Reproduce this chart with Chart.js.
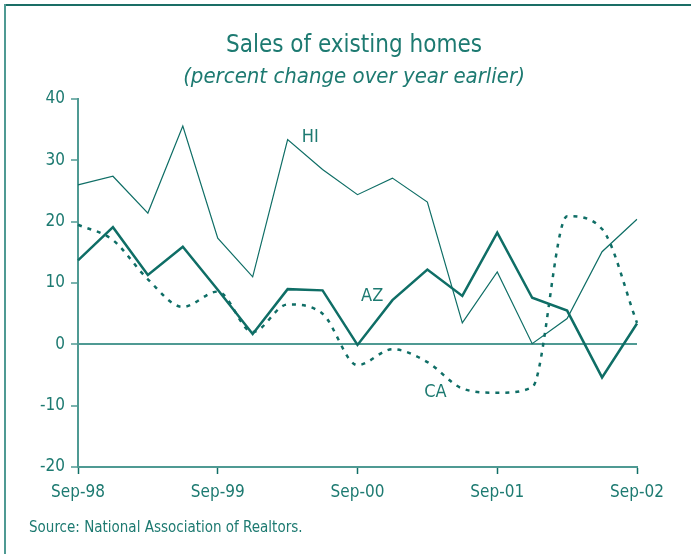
<!DOCTYPE html>
<html>
<head>
<meta charset="utf-8">
<script src="https://cdn.jsdelivr.net/npm/chart.js@4.4.0/dist/chart.umd.min.js"></script>
<style>
html,body{margin:0;padding:0;background:#fff;}
#wrap{position:relative;width:691px;height:554px;}
canvas{display:block;}
</style>
</head>
<body>
<div id="wrap"><canvas id="c" width="691" height="554"></canvas></div>
<script>
const categories = ["Sep-98","Dec-98","Mar-99","Jun-99","Sep-99","Dec-99","Mar-00","Jun-00","Sep-00","Dec-00","Mar-01","Jun-01","Sep-01","Dec-01","Mar-02","Jun-02","Sep-02"];
const hiValues = [26.0, 27.4, 21.4, 35.6, 17.3, 11.0, 33.4, 28.5, 24.4, 27.1, 23.2, 3.5, 11.8, 0.1, 4.2, 15.1, 20.4];
const azValues = [13.7, 19.1, 11.3, 15.9, 8.9, 1.7, 9.0, 8.8, -0.1, 7.2, 12.2, 7.9, 18.2, 7.6, 5.5, -5.4, 3.4];
const caValues = [19.5, 17.0, 10.6, 6.1, 8.6, 2.0, 6.5, 5.0, -3.4, -0.8, -2.9, -7.2, -7.9, -7.0, 20.9, 18.8, 3.5];
const yTicks = [-20, -10, 0, 10, 20, 30, 40];
const seriesNames = ["HI", "AZ", "CA"];

const TEAL = "#0f6e66";
const AXIS = "#4f9a93";
const TEXT = "#1d7a71";
const FONT = "'Liberation Sans Narrow', 'DejaVu Sans Condensed', 'Liberation Sans', sans-serif";

const labelSpots = [
  {name: 0, xi: 6.65, y: 33.8},
  {name: 1, xi: 8.42, y: 7.8},
  {name: 2, xi: 10.23, y: -7.8}
];

const decor = {
  id: 'decor',
  afterDraw(chart) {
    const ctx = chart.ctx;
    ctx.save();
    // frame
    ctx.fillStyle = "#1a6e66";
    ctx.fillRect(4, 4, 687, 2);
    ctx.fillStyle = "#4f9a93";
    ctx.fillRect(4, 4, 2, 550);
    // title
    ctx.fillStyle = TEXT;
    ctx.textAlign = 'center';
    ctx.textBaseline = 'middle';
    ctx.font = "24px " + FONT;
    ctx.fillText("Sales of existing homes", 354, 46);
    ctx.font = "italic 22px " + FONT;
    ctx.fillText("(percent change over year earlier)", 354, 77);
    // source
    ctx.textAlign = 'left';
    ctx.font = "15px " + FONT;
    ctx.fillText("Source: National Association of Realtors.", 29, 528);
    // series labels
    const xs = chart.scales.x, ys = chart.scales.y;
    ctx.textAlign = 'center';
    ctx.font = "18px " + FONT;
    labelSpots.forEach(s => {
      const i0 = Math.floor(s.xi), f = s.xi - i0;
      const px = xs.getPixelForValue(i0) * (1 - f) + xs.getPixelForValue(i0 + 1) * f;
      ctx.fillText(seriesNames[s.name], px, ys.getPixelForValue(s.y));
    });
    ctx.restore();
  }
};

new Chart(document.getElementById('c'), {
  type: 'line',
  data: {
    labels: categories,
    datasets: [
      {label: seriesNames[0], data: hiValues, borderColor: TEAL, borderWidth: 1.2, pointRadius: 0, tension: 0, fill: false},
      {label: seriesNames[1], data: azValues, borderColor: TEAL, borderWidth: 2.5, pointRadius: 0, tension: 0, fill: false},
      {label: seriesNames[2], data: caValues, borderColor: TEAL, borderWidth: 2.5, borderDash: [4, 6], borderCapStyle: 'butt', pointRadius: 0, cubicInterpolationMode: 'monotone', fill: false}
    ]
  },
  options: {
    responsive: false,
    animation: false,
    events: [],
    layout: {padding: {left: 0, right: 54, top: 99, bottom: 0}},
    plugins: {legend: {display: false}, tooltip: {enabled: false}, title: {display: false}},
    scales: {
      x: {
        type: 'category',
        offset: false,
        grid: {drawOnChartArea: false, drawTicks: true, tickLength: 7, tickColor: TEAL, tickWidth: 1.5},
        border: {color: AXIS, width: 2},
        ticks: {
          autoSkip: false, maxRotation: 0, color: TEXT, padding: 8,
          font: {family: FONT, size: 17},
          callback: function(v, i) { return i % 4 === 0 ? categories[i] : null; }
        },
        afterFit(scale) { scale.height = 87; }
      },
      y: {
        min: -20, max: 40,
        afterBuildTicks(scale) { scale.ticks = yTicks.map(v => ({value: v})); },
        grid: {
          drawTicks: true, tickLength: 7, tickWidth: 1.5,
          color: ctx => (ctx.tick && ctx.tick.value === 0) ? AXIS : 'rgba(0,0,0,0)',
          lineWidth: ctx => (ctx.tick && ctx.tick.value === 0) ? 2 : 0,
          tickColor: AXIS
        },
        border: {color: AXIS, width: 2},
        ticks: {color: TEXT, padding: 6, font: {family: FONT, size: 17}},
        afterFit(scale) { scale.width = 78; }
      }
    }
  },
  plugins: [decor]
});
</script>
</body>
</html>
